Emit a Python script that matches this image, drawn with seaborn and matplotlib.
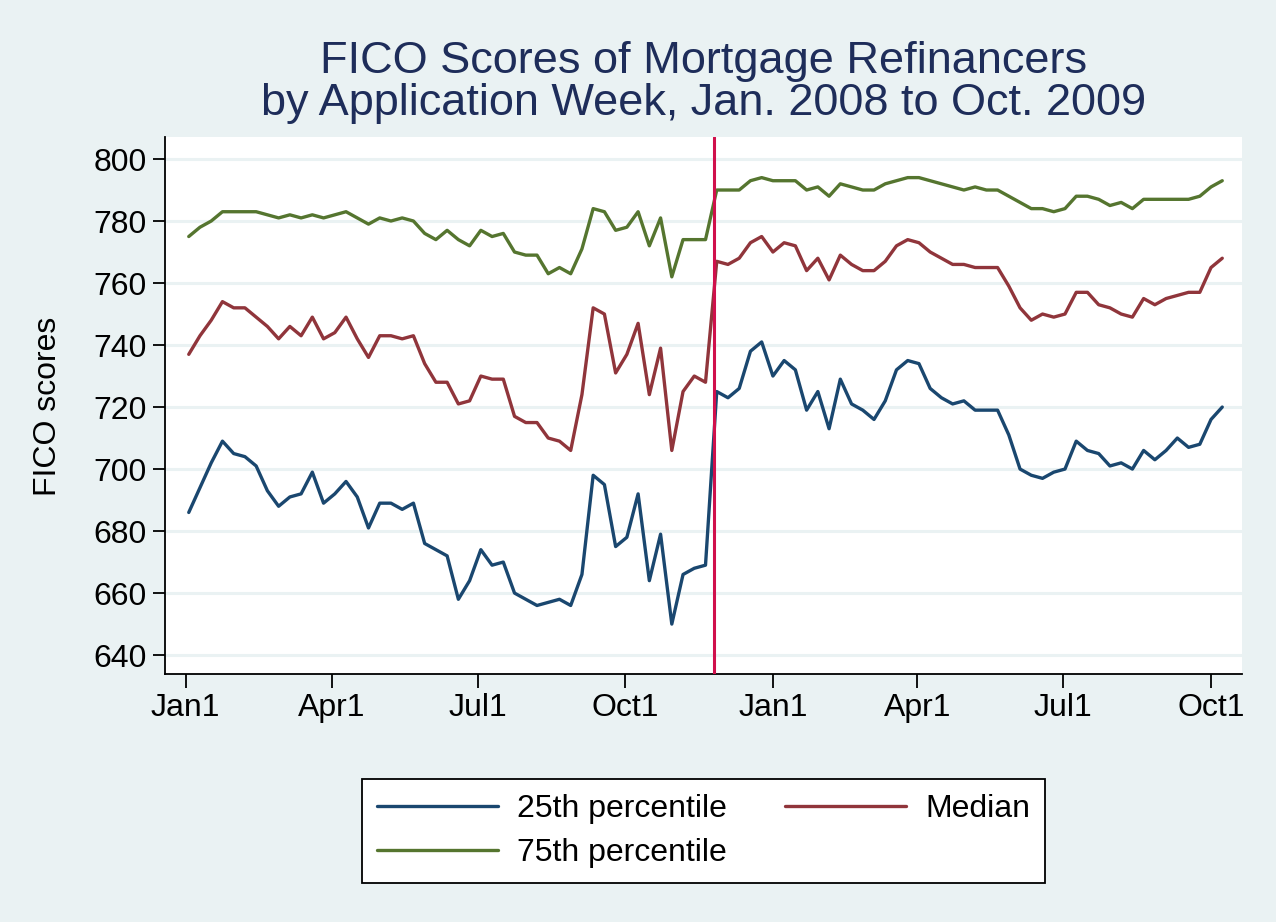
import pandas as pd
import matplotlib
matplotlib.use("Agg")
import matplotlib.pyplot as plt
import seaborn as sns

# -------------------------
# Data (weekly)
# -------------------------
start_week = "2008-01-03"
n_weeks = 93
event_date = "2008-11-25"

p25 = [686, 694, 702, 709, 705, 704, 701, 693, 688, 691, 692, 699, 689, 692, 696, 691,
       681, 689, 689, 687, 689, 676, 674, 672, 658, 664, 674, 669, 670, 660, 658, 656,
       657, 658, 656, 666, 698, 695, 675, 678, 692, 664, 679, 650, 666, 668, 669, 725,
       723, 726, 738, 741, 730, 735, 732, 719, 725, 713, 729, 721, 719, 716, 722, 732,
       735, 734, 726, 723, 721, 722, 719, 719, 719, 711, 700, 698, 697, 699, 700, 709,
       706, 705, 701, 702, 700, 706, 703, 706, 710, 707, 708, 716, 720]
median = [737, 743, 748, 754, 752, 752, 749, 746, 742, 746, 743, 749, 742, 744, 749, 742,
          736, 743, 743, 742, 743, 734, 728, 728, 721, 722, 730, 729, 729, 717, 715, 715,
          710, 709, 706, 724, 752, 750, 731, 737, 747, 724, 739, 706, 725, 730, 728, 767,
          766, 768, 773, 775, 770, 773, 772, 764, 768, 761, 769, 766, 764, 764, 767, 772,
          774, 773, 770, 768, 766, 766, 765, 765, 765, 759, 752, 748, 750, 749, 750, 757,
          757, 753, 752, 750, 749, 755, 753, 755, 756, 757, 757, 765, 768]
p75 = [775, 778, 780, 783, 783, 783, 783, 782, 781, 782, 781, 782, 781, 782, 783, 781,
       779, 781, 780, 781, 780, 776, 774, 777, 774, 772, 777, 775, 776, 770, 769, 769,
       763, 765, 763, 771, 784, 783, 777, 778, 783, 772, 781, 762, 774, 774, 774, 790,
       790, 790, 793, 794, 793, 793, 793, 790, 791, 788, 792, 791, 790, 790, 792, 793,
       794, 794, 793, 792, 791, 790, 791, 790, 790, 788, 786, 784, 784, 783, 784, 788,
       788, 787, 785, 786, 784, 787, 787, 787, 787, 787, 788, 791, 793]

series_names = ["25th percentile", "Median", "75th percentile"]
series_colors = ["#1a476f", "#90353b", "#55752f"]
tick_dates = ["2008-01-01", "2008-04-01", "2008-07-01", "2008-10-01",
              "2009-01-01", "2009-04-01", "2009-07-01", "2009-10-01"]
tick_labels = ["Jan1", "Apr1", "Jul1", "Oct1", "Jan1", "Apr1", "Jul1", "Oct1"]
y_ticks = [640, 660, 680, 700, 720, 740, 760, 780, 800]

weeks = pd.date_range(start_week, periods=n_weeks, freq="7D")
df = pd.DataFrame({"week": weeks, series_names[0]: p25,
                   series_names[1]: median, series_names[2]: p75})
long = df.melt(id_vars="week", var_name="series", value_name="fico")

# -------------------------
# Plot
# -------------------------
bg = "#eaf2f3"
sns.set_theme(style="white")
plt.rcParams["font.family"] = ["Liberation Sans", "DejaVu Sans"]
plt.rcParams["text.color"] = "black"
plt.rcParams["xtick.color"] = "black"
plt.rcParams["ytick.color"] = "black"

fig = plt.figure(figsize=(12.76, 9.22), dpi=100, facecolor=bg)
ax = fig.add_axes([165 / 1276, 1 - 674 / 922, (1242 - 165) / 1276, (674 - 137) / 922])
ax.set_facecolor("white")

sns.lineplot(data=long, x="week", y="fico", hue="series", hue_order=series_names,
             palette=series_colors, linewidth=2.4, ax=ax, legend=True)

ax.axvline(pd.Timestamp(event_date), color="#d0104c", linewidth=2.2, zorder=5)

for v in y_ticks:
    ax.axhline(v, color=bg, linewidth=2.2, zorder=0)

ax.set_ylim(633.9, 807.1)
ax.set_xlim(pd.Timestamp("2008-01-01") - pd.Timedelta(days=12.8),
             pd.Timestamp("2008-01-01") + pd.Timedelta(days=658.3))
ax.set_yticks(y_ticks)
ax.set_xticks([pd.Timestamp(d) for d in tick_dates])
ax.set_xticklabels(tick_labels)
ax.tick_params(axis="y", length=9, width=1.3, pad=4, labelsize=23, colors="black", left=True)
ax.tick_params(axis="x", length=10, width=1.3, pad=4, labelsize=23, colors="black", bottom=True)
ax.set_xlabel("")
ax.set_ylabel("")

for side in ["top", "right"]:
    ax.spines[side].set_visible(False)
for side in ["left", "bottom"]:
    ax.spines[side].set_color("black")
    ax.spines[side].set_linewidth(1.3)

title_color = "#1e2d5a"
fig.text(703.5 / 1276, 1 - 62 / 922, "FICO Scores of Mortgage Refinancers",
         ha="center", va="center", fontsize=32.5, color=title_color)
fig.text(703.5 / 1276, 1 - 104 / 922, "by Application Week, Jan. 2008 to Oct. 2009",
         ha="center", va="center", fontsize=32.5, color=title_color)
fig.text(48 / 1276, 1 - 406 / 922, "FICO scores", rotation=90,
         ha="center", va="center", fontsize=23, color="black")

# legend: 25th / 75th in first column, Median in second
handles, labels = ax.get_legend_handles_labels()
ax.get_legend().remove()
order = [0, 2, 1]
leg = fig.legend([handles[i] for i in order], [labels[i] for i in order],
                 ncol=2, loc="center", bbox_to_anchor=(703.5 / 1276, 1 - 831 / 922),
                 fontsize=23, frameon=True, fancybox=False, edgecolor="black",
                 facecolor="white", framealpha=1, handlelength=3.8, handletextpad=0.6,
                 columnspacing=1.8, labelspacing=0.45, borderpad=0.45)
leg.get_frame().set_linewidth(1.3)
for t in leg.get_texts():
    t.set_color("black")

fig.savefig("out.png", dpi=100, facecolor=bg)
